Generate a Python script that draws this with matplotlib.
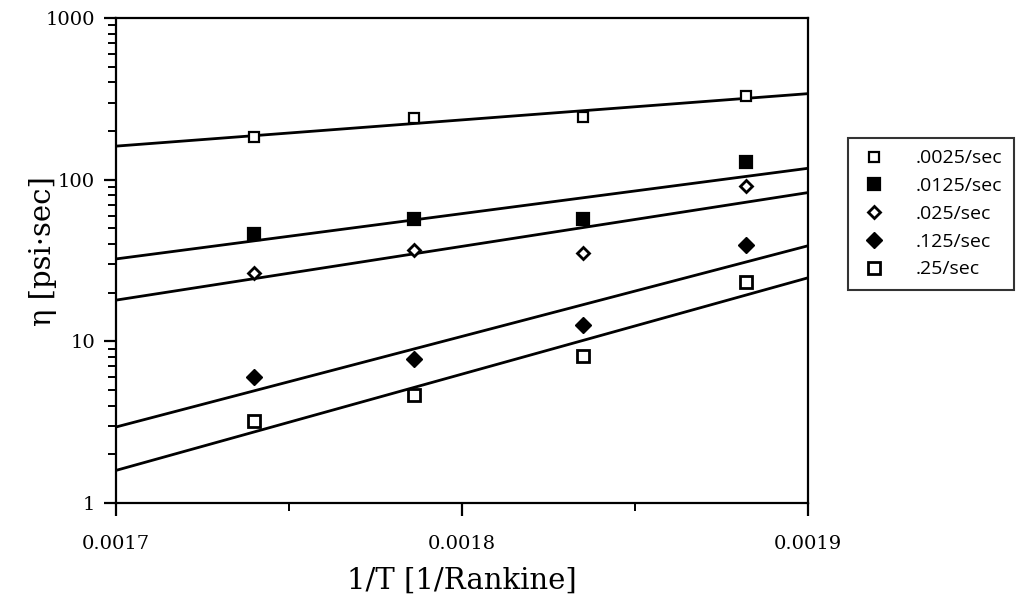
import numpy as np
import matplotlib
matplotlib.use('Agg')
import matplotlib.pyplot as plt
from matplotlib.ticker import FixedLocator, FixedFormatter, LogLocator, NullFormatter

# inverse temperature [1/Rankine]
inv_T = [0.00174, 0.001786, 0.001835, 0.001882]

# viscosity [psi*sec] per strain rate
labels = ['.0025/sec', '.0125/sec', '.025/sec', '.125/sec', '.25/sec']
eta_0025 = [183, 240, 245, 329]
eta_0125 = [46, 57, 57, 128]
eta_025 = [26.5, 37, 35, 91]
eta_125 = [6.0, 7.8, 12.6, 39.4]
eta_25 = [3.2, 4.65, 8.1, 23.3]

series = [eta_0025, eta_0125, eta_025, eta_125, eta_25]

# marker styles: (marker, size, facecolor, edgewidth)
styles = [('s', 7, 'white', 1.6),
          ('s', 9, 'black', 1.6),
          ('D', 6, 'white', 2.0),
          ('D', 8, 'black', 1.0),
          ('s', 9, 'white', 2.0)]

fig = plt.figure(figsize=(10.3, 5.99), dpi=100)
ax = fig.add_axes([0.1126, 0.16, 0.672, 0.81])

xfit = np.array([0.0017, 0.0019])
handles = []
for vals, lab, st in zip(series, labels, styles):
    # exponential trend line (least squares on log10)
    b, a = np.polyfit(inv_T, np.log10(vals), 1)
    ax.plot(xfit, 10 ** (a + b * xfit), color='black', lw=2, zorder=2)
    h, = ax.plot(inv_T, vals, ls='none', marker=st[0], ms=st[1],
                 mfc=st[2], mec='black', mew=st[3], label=lab, zorder=3)
    handles.append(h)

ax.set_yscale('log')
ax.set_xlim(0.0017, 0.0019)
ax.set_ylim(1, 1000)

ax.xaxis.set_major_locator(FixedLocator([0.0017, 0.0018, 0.0019]))
ax.xaxis.set_major_formatter(FixedFormatter(['0.0017', '0.0018', '0.0019']))
ax.xaxis.set_minor_locator(FixedLocator([0.00175, 0.00185]))
ax.yaxis.set_major_locator(FixedLocator([1, 10, 100, 1000]))
ax.yaxis.set_major_formatter(FixedFormatter(['1', '10', '100', '1000']))
ax.yaxis.set_minor_locator(LogLocator(base=10, subs=np.arange(2, 10)))
ax.yaxis.set_minor_formatter(NullFormatter())

for sp in ax.spines.values():
    sp.set_linewidth(1.6)

ax.tick_params(which='major', direction='out', length=9, width=1.6,
               labelsize=14, pad=6)
ax.tick_params(axis='x', which='major', pad=14)
ax.tick_params(which='minor', direction='out', length=6, width=1.4)
for t in ax.get_xticklabels() + ax.get_yticklabels():
    t.set_fontfamily('DejaVu Serif')

ax.set_xlabel('1/T [1/Rankine]', fontsize=21, family='DejaVu Serif', labelpad=10)
ax.set_ylabel('η [psi·sec]', fontsize=21, family='DejaVu Serif')
ax.yaxis.set_label_coords(-0.085, 0.52)

leg = fig.legend(handles=handles, loc='upper left', bbox_to_anchor=(0.823, 0.77),
                 borderaxespad=0, frameon=True, fancybox=False, edgecolor='black',
                 prop={'family': 'Open Sans', 'size': 14}, labelspacing=0.5,
                 handletextpad=1.4, borderpad=0.6, handlelength=1.5)
leg.get_frame().set_linewidth(1.5)

fig.savefig('out.png', dpi=100)
